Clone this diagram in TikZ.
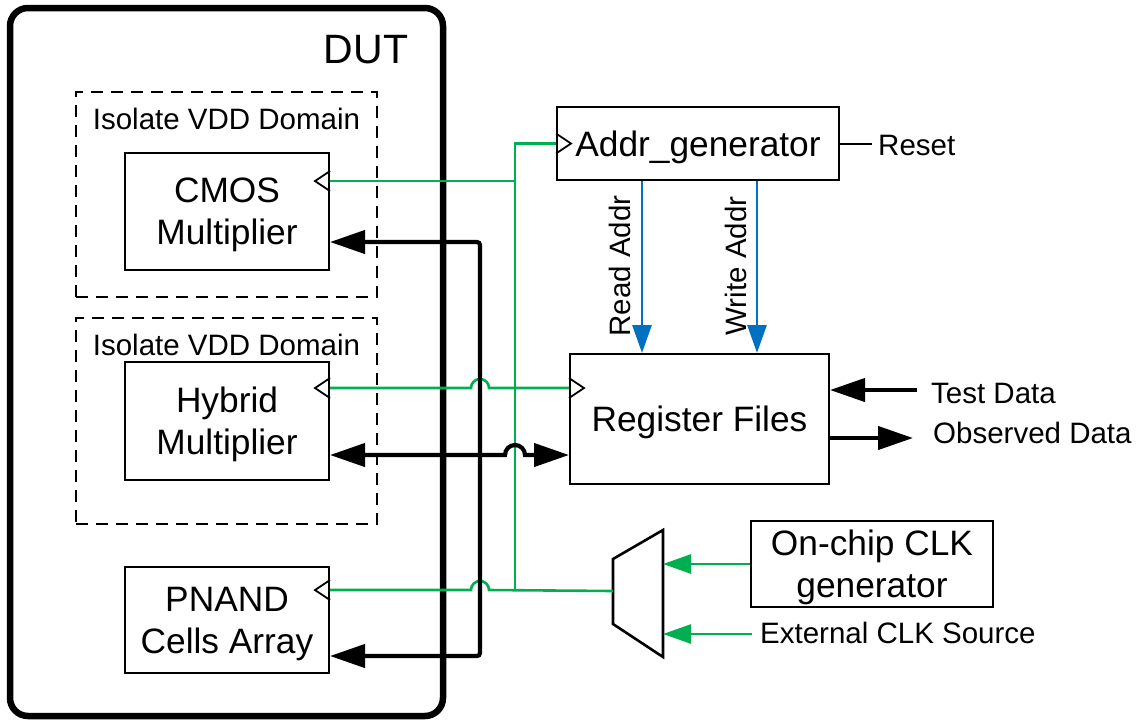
\documentclass[tikz,border=0pt]{standalone}
\usepackage{fontspec}
\setmainfont{Liberation Sans}
\usetikzlibrary{arrows.meta,calc}

\definecolor{clkgreen}{RGB}{0,176,80}
\definecolor{addrblue}{RGB}{0,112,192}

\newcommand\fbig{\fontsize{35.3pt}{42pt}\selectfont}
\newcommand\fsmall{\fontsize{29.5pt}{34pt}\selectfont}
\newcommand\fdut{\fontsize{41pt}{46pt}\selectfont}

\begin{document}
\begin{tikzpicture}[x=1pt,y=-1pt,
  box/.style={draw,line width=2pt,inner sep=0pt,align=center,font=\fbig,text depth=0pt},
  vddbox/.style={draw,line width=2pt,dash pattern=on 12pt off 8pt},
  lbl/.style={inner sep=0pt,font=\fsmall},
  clk/.style={line width=1.8pt,line join=miter},
  gline/.style={clkgreen,line width=2.6pt},
  bline/.style={black,line width=4.2pt},
  aline/.style={addrblue,line width=2.8pt},
  thinline/.style={black,line width=2pt},
  bigtip/.tip={Triangle[length=35pt,width=23pt]},
  midtip/.tip={Triangle[length=28pt,width=19pt]},
]
\useasboundingbox (0,0) rectangle (1140,721);

% device under test
\node[draw,line width=6.5pt,rounded corners=18pt,minimum width=433pt,minimum height=708pt]
  (dut) at (226.5,362) {};
\node[inner sep=0pt,font=\fdut] (duttxt) at (366,50) {DUT};

% isolated supply domains
\node[vddbox,minimum width=301pt,minimum height=205pt] (dom1) at (226.5,194.5) {};
\node[lbl] (dom1txt) at (226.5,118.5) {Isolate VDD Domain};
\node[vddbox,minimum width=301pt,minimum height=206pt] (dom2) at (226.5,421) {};
\node[lbl] (dom2txt) at (226.5,344.5) {Isolate VDD Domain};

% multipliers and cell array
\node[box,minimum width=204pt,minimum height=117pt] (cmos) at (227,211.5) {CMOS\\Multiplier};
\node[box,minimum width=204pt,minimum height=118pt] (hybrid) at (227,421) {Hybrid\\Multiplier};
\node[box,minimum width=204pt,minimum height=106pt] (pnand) at (227,620) {PNAND\\Cells Array};

% test infrastructure
\node[box,minimum width=282pt,minimum height=73pt] (addr) at (698,143.5) {Addr\_generator};
\node[box,minimum width=259pt,minimum height=130pt] (reg) at (699.5,419) {Register Files};
\node[box,minimum width=242pt,minimum height=86pt] (onchip) at (872,564) {On-chip CLK\\generator};

% clock multiplexer
\coordinate (muxTL) at (613,559);
\coordinate (muxTR) at (663,530);
\coordinate (muxBR) at (663,657);
\coordinate (muxBL) at (613,624);
\coordinate (muxout) at (613,591);
\coordinate (muxR) at (663,0);
\draw[line width=2.6pt,line join=miter] (muxTL) -- (muxTR) -- (muxBR) -- (muxBL) -- cycle;

% clock pins
\path ($(cmos.north east)+(0,29)$) coordinate (ckA)
      ($(hybrid.north east)+(0,27)$) coordinate (ckB)
      ($(pnand.north east)+(0,24)$) coordinate (ckC)
      ($(reg.north west)+(0,35)$) coordinate (ckR)
      (addr.west) coordinate (ckG);
\foreach \p in {ckA,ckB,ckC}
  \draw[clk] ($(\p)+(0,-10)$) -- ++(-15,10) -- ++(15,10);
\foreach \p in {ckR,ckG}
  \draw[clk] ($(\p)+(0,-10)$) -- ++(15,10) -- ++(-15,10);

% routing columns
\coordinate (gx) at (515,0);
\coordinate (bx) at (480,0);

% clock network
\draw[gline] (ckA) -- (ckA -| gx);
\draw[gline] (ckG) -- (ckG -| gx) -- (muxout -| gx);
\draw[gline] (ckB) -- ($(ckB -| bx)+(-9,0)$) arc(180:360:9) -- (ckR);
\draw[gline] (ckC) -- ($(ckC -| bx)+(-9,0)$) arc(180:360:9) -- (muxout);
\draw[gline,-{midtip}] (onchip.west) -- (onchip.west -| muxR);
\coordinate (extsrc) at (752,634);
\node[lbl,anchor=base west] (exttxt) at (760,643) {External CLK Source};
\draw[gline,-{midtip}] (extsrc) -- (extsrc -| muxR);

% data paths
\path ($(cmos.east)+(0,30.5)$) coordinate (cmD)
      ($(hybrid.east)+(0,34)$) coordinate (hyD)
      ($(pnand.east)+(0,36)$) coordinate (pnD);
\draw[bline,{bigtip}-{bigtip},rounded corners=3pt] (cmD) -- (cmD -| bx) -- (pnD -| bx) -- (pnD);
\draw[bline,{bigtip}-{bigtip}] (hyD) -- ($(hyD -| gx)+(-10,0)$) arc(180:360:10) -- (hyD -| reg.west);

% address buses
\coordinate (rdx) at (642,0);
\coordinate (wrx) at (757,0);
\draw[aline,-{midtip}] (addr.south -| rdx) -- (reg.north -| rdx);
\draw[aline,-{midtip}] (addr.south -| wrx) -- (reg.north -| wrx);
\node[lbl,rotate=90] (rdtxt) at (620,266) {Read Addr};
\node[lbl,rotate=90] (wrtxt) at (736,266) {Write Addr};

% reset and external data ports
\node[lbl,anchor=base west] (rsttxt) at (878,155) {Reset};
\coordinate (rst) at (872,143.5);
\draw[thinline] (addr.east) -- (rst);

\node[lbl,anchor=base west] (tdtxt) at (931,403) {Test Data};
\coordinate (td) at (917,390);
\draw[bline,-{bigtip}] (td) -- (td -| reg.east);

\node[lbl,anchor=base west] (odtxt) at (933,443) {Observed Data};
\coordinate (od) at (913,438);
\draw[bline,-{bigtip}] (od -| reg.east) -- (od);
\end{tikzpicture}
\end{document}
